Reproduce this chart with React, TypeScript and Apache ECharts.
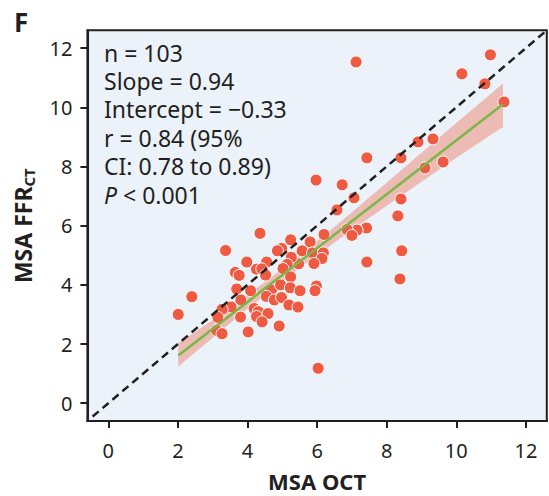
import React, { useEffect, useRef } from "react";
import * as echarts from "echarts";

const FONT = "'Noto Sans', sans-serif";
const INK = "#231F20";

const xTicks = [0, 2, 4, 6, 8, 10, 12];
const yTicks = [0, 2, 4, 6, 8, 10, 12];

// MSA OCT (x) and MSA FFR-CT (y)
const msaOct = [
  7.12, 10.98, 10.16, 10.82, 11.37, 8.9, 9.33, 9.62, 9.1, 8.41,
  7.43, 5.97, 6.72, 7.06, 8.41, 6.57, 8.32, 7.42, 7.15, 6.86,
  7.0, 6.2, 5.8, 8.43, 7.43, 8.38, 6.03, 4.36, 5.24, 5.57,
  5.87, 6.18, 6.14, 5.91, 5.47, 5.26, 5.14, 4.98, 4.86, 4.55,
  4.26, 4.41, 4.52, 5.02, 5.24, 4.69, 4.95, 5.23, 5.51, 5.98,
  5.94, 4.54, 4.77, 4.98, 5.19, 5.45, 4.19, 4.31, 4.26, 4.59,
  4.42, 4.91, 4.02, 3.37, 3.98, 3.65, 3.76, 3.69, 4.09, 2.4,
  2.01, 3.81, 3.53, 3.27, 3.15, 3.8, 3.11, 3.27,
];
const msaFfrCt = [
  11.53, 11.77, 11.13, 10.79, 10.18, 8.83, 8.93, 8.15, 7.95, 8.29,
  8.29, 7.54, 7.38, 6.94, 6.9, 6.53, 6.33, 5.92, 5.85, 5.87,
  5.67, 5.7, 5.45, 5.15, 4.77, 4.2, 1.18, 5.74, 5.52, 5.15,
  5.08, 5.08, 4.89, 4.72, 4.71, 4.93, 4.69, 5.23, 5.15, 4.77,
  4.53, 4.54, 4.33, 4.55, 4.27, 3.83, 4.0, 3.9, 3.8, 3.96,
  3.8, 3.61, 3.49, 3.57, 3.32, 3.25, 3.2, 3.09, 2.93, 3.03,
  2.75, 2.61, 2.41, 5.16, 4.77, 4.42, 4.32, 3.86, 3.8, 3.6,
  3.0, 3.49, 3.25, 3.17, 2.9, 2.91, 2.46, 2.35,
];

// Regression line end points
const fitX = [2.01, 11.34];
const fitY = [1.61, 10.1];

// 95% confidence band
const bandX = [2.01, 3, 4, 5, 6, 7, 8, 9, 10, 11.34];
const bandLow = [1.24, 2.21, 3.19, 4.12, 5.01, 5.85, 6.67, 7.48, 8.29, 9.33];
const bandHigh = [2.03, 2.81, 3.65, 4.54, 5.47, 6.45, 7.45, 8.46, 9.47, 10.8];

// Line of identity
const identity = [-0.45, 12.6];

const statLines = [
  "n = 103",
  "Slope = 0.94",
  "Intercept = \u22120.33",
  "r = 0.84 (95%",
  "CI: 0.78 to 0.89)",
  "{i|P} < 0.001",
];

export default function App() {
  const ref = useRef<HTMLDivElement>(null);
  useEffect(() => {
    const chart = echarts.init(ref.current!, undefined, { renderer: "svg" });
    const option: any = {
      animation: false,
      backgroundColor: "#ffffff",
      grid: {
        left: 87.4,
        top: 30.3,
        right: 2.2,
        bottom: 75,
        show: true,
        backgroundColor: "#EBF2FA",
        borderColor: INK,
        borderWidth: 2,
        outerBoundsMode: "none",
      },
      xAxis: {
        type: "value",
        min: -0.6,
        max: 12.6,
        name: "MSA OCT",
        nameLocation: "middle",
        nameGap: 49,
        nameTextStyle: { fontFamily: FONT, fontSize: 22, fontWeight: "bold", color: INK, lineHeight: 22 },
        axisLine: { show: true, onZero: false, lineStyle: { color: INK, width: 2 } },
        axisTick: { show: true, customValues: xTicks, length: 7, lineStyle: { color: INK, width: 2 } },
        axisLabel: { customValues: xTicks, fontFamily: FONT, fontSize: 20, color: INK, margin: 19, lineHeight: 20 },
        splitLine: { show: false },
      },
      yAxis: {
        type: "value",
        min: -0.6,
        max: 12.6,
        name: "{a|MSA FFR}{b|CT}",
        nameLocation: "middle",
        nameRotate: 90,
        nameGap: 51,
        nameTextStyle: {
          fontFamily: FONT,
          fontWeight: "bold",
          color: INK,
          fontSize: 23,
          rich: {
            a: { fontFamily: FONT, fontWeight: "bold", color: INK, fontSize: 23, lineHeight: 26 },
            b: { fontFamily: FONT, fontWeight: "bold", color: INK, fontSize: 15, lineHeight: 13, verticalAlign: "bottom" },
          },
        },
        axisLine: { show: true, onZero: false, lineStyle: { color: INK, width: 2 } },
        axisTick: { show: true, customValues: yTicks, length: 7, lineStyle: { color: INK, width: 2 } },
        axisLabel: { customValues: yTicks, fontFamily: FONT, fontSize: 20, color: INK, margin: 15 },
        splitLine: { show: false },
      },
      graphic: [
        {
          type: "text",
          x: 14,
          y: 22,
          style: { text: "F", fontFamily: FONT, fontSize: 26, fontWeight: "bold", fill: INK, verticalAlign: "middle" },
        },
        ...statLines.map((t, i) => ({
          type: "text",
          x: 104,
          y: 52.5 + 28.4 * i,
          z: 10,
          style: {
            text: t,
            fontFamily: FONT,
            fontSize: 23,
            lineHeight: 26,
            fill: INK,
            verticalAlign: "middle",
            rich: { i: { fontFamily: FONT, fontSize: 23, lineHeight: 26, fontStyle: "italic", fill: INK } },
          },
        })),
      ],
      series: [
        {
          type: "custom",
          silent: true,
          z: 1,
          data: bandX.map((x, i) => [x, bandLow[i], bandHigh[i]]),
          encode: { x: 0, y: [1, 2] },
          renderItem: (params: any, api: any) => {
            if (params.dataIndex !== 0) return null;
            const upper = bandX.map((x, i) => api.coord([x, bandHigh[i]]));
            const lower = bandX.map((x, i) => api.coord([x, bandLow[i]])).reverse();
            return {
              type: "polygon",
              shape: { points: upper.concat(lower) },
              style: { fill: "rgba(235,120,95,0.45)" },
            };
          },
        },
        {
          type: "scatter",
          z: 2,
          symbolSize: 12,
          data: msaOct.map((x, i) => [x, msaFfrCt[i]]),
          itemStyle: { color: "#EF5A43", borderColor: "#ffffff", borderWidth: 1, opacity: 1 },
        },
        {
          type: "line",
          z: 3,
          symbol: "none",
          silent: true,
          data: identity.map((v) => [v, v]),
          lineStyle: { color: INK, width: 2.5, type: [8, 5] },
        },
        {
          type: "line",
          z: 4,
          symbol: "none",
          silent: true,
          data: fitX.map((x, i) => [x, fitY[i]]),
          lineStyle: { color: "#7AB648", width: 2.5 },
        },
      ],
    };
    chart.setOption(option);
    return () => chart.dispose();
  }, []);
  return <div ref={ref} style={{ position: "absolute", left: 0, top: 0, width: 549, height: 496 }} />;
}
